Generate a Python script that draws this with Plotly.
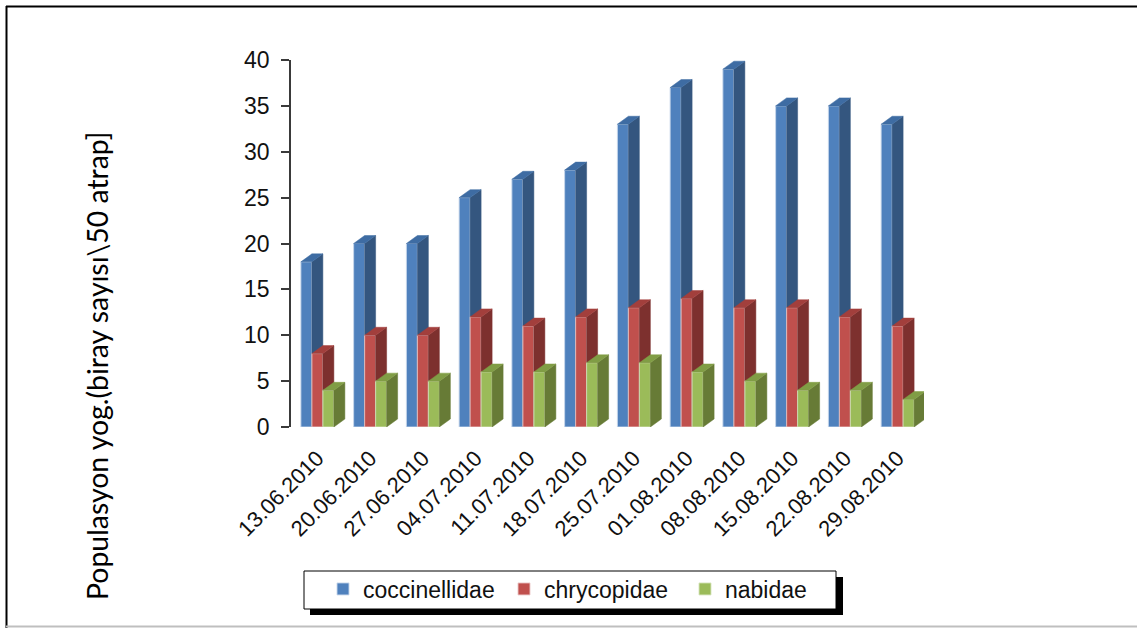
import plotly.graph_objects as go

# Sampling dates and counts per family
dates = ["13.06.2010", "20.06.2010", "27.06.2010", "04.07.2010", "11.07.2010", "18.07.2010",
         "25.07.2010", "01.08.2010", "08.08.2010", "15.08.2010", "22.08.2010", "29.08.2010"]
coccinellidae = [18, 20, 20, 25, 27, 28, 33, 37, 39, 35, 35, 33]
chrycopidae = [8, 10, 10, 12, 11, 12, 13, 14, 13, 13, 12, 11]
nabidae = [4, 5, 5, 6, 6, 7, 7, 6, 5, 4, 4, 3]
y_ticks = [0, 5, 10, 15, 20, 25, 30, 35, 40]

W, H = 1137, 628
L, R, T, B = 291, 213, 60, 201
PW, PH = W - L - R, H - T - B


def px(x):
    """pixel x -> paper x"""
    return (x - L) / PW


def py(y):
    """pixel y (from top) -> paper y"""
    return (H - B - y) / PH


BAR_W = 0.2085      # width of one front face, in category units
DEPTH_X = 0.2085    # horizontal shift of the back faces
DEPTH_Y = 0.87      # vertical shift of the back faces, in value units

series = [
    ("coccinellidae", coccinellidae, "#4F81BD", "#34567F", "#3E6CA3", "rgba(200,215,235,0.9)"),
    ("chrycopidae", chrycopidae, "#C0504D", "#7D302E", "#A23F3C", "rgba(235,200,200,0.9)"),
    ("nabidae", nabidae, "#9BBB59", "#677B36", "#809D45", "rgba(215,230,190,0.9)"),
]

idx = list(range(len(dates)))
fig = go.Figure()

for s, (name, vals, front, side, top, edge) in enumerate(series):
    xa = "x" if s == 0 else f"x{s + 1}"
    offset = -1.5 * BAR_W + s * BAR_W
    fig.add_trace(go.Bar(
        x=idx, y=vals, width=BAR_W, offset=offset, name=name,
        marker=dict(color=front, line=dict(color=edge, width=1)),
        xaxis=xa, yaxis="y", hoverinfo="skip",
    ))
    sx, sy, tx, ty = [], [], [], []
    for i, v in zip(idx, vals):
        xl = i + offset
        xr = xl + BAR_W
        sx += [xr, xr + DEPTH_X, xr + DEPTH_X, xr, xr, None]
        sy += [0, DEPTH_Y, v + DEPTH_Y, v, 0, None]
        tx += [xl, xr, xr + DEPTH_X, xl + DEPTH_X, xl, None]
        ty += [v, v, v + DEPTH_Y, v + DEPTH_Y, v, None]
    fig.add_trace(go.Scatter(x=sx, y=sy, fill="toself", fillcolor=side, mode="lines",
                             line=dict(color=side, width=0.5), showlegend=False,
                             xaxis=xa, yaxis="y", hoverinfo="skip"))
    fig.add_trace(go.Scatter(x=tx, y=ty, fill="toself", fillcolor=top, mode="lines",
                             line=dict(color=top, width=0.5), showlegend=False,
                             xaxis=xa, yaxis="y", hoverinfo="skip"))

xr_ = [-0.5, len(dates) - 0.5]
fig.update_layout(
    width=W, height=H,
    margin=dict(l=L, r=R, t=T, b=B),
    paper_bgcolor="white", plot_bgcolor="white",
    barmode="overlay",
    xaxis=dict(range=xr_, tickmode="array", tickvals=idx, ticktext=dates,
               tickangle=-45, showgrid=False, zeroline=False, showline=False, ticks="",
               tickfont=dict(family="Liberation Sans", size=22, color="#111"),
               ticklabelstandoff=13),
    xaxis2=dict(range=xr_, overlaying="x", visible=False, matches="x"),
    xaxis3=dict(range=xr_, overlaying="x", visible=False, matches="x"),
    yaxis=dict(range=[0, 40], tickmode="array", tickvals=y_ticks, showgrid=False, zeroline=False,
               showline=True, linecolor="#3a3a3a", linewidth=1.5,
               ticks="outside", ticklen=8, tickwidth=1.5, tickcolor="#3a3a3a",
               tickfont=dict(family="Liberation Sans", size=23, color="#111"),
               ticklabelstandoff=7),
    legend=dict(orientation="h", x=px(323), xanchor="left", y=py(589), yanchor="middle",
                bgcolor="rgba(0,0,0,0)", borderwidth=0, entrywidth=136,
                font=dict(family="Liberation Sans", size=23, color="#111")),
    showlegend=True,
)

shapes = [
    # legend frame with drop shadow
    dict(type="rect", xref="paper", yref="paper", x0=px(310), x1=px(843), y0=py(615), y1=py(577),
         fillcolor="black", line=dict(width=0), layer="above"),
    dict(type="rect", xref="paper", yref="paper", x0=px(304), x1=px(836), y0=py(609), y1=py(571),
         fillcolor="white", line=dict(color="black", width=1), layer="above"),
    # page frame
    dict(type="line", xref="paper", yref="paper", x0=px(6), x1=px(W), y0=py(6.5), y1=py(6.5),
         line=dict(color="black", width=2)),
    dict(type="line", xref="paper", yref="paper", x0=px(6.5), x1=px(6.5), y0=py(6), y1=py(H),
         line=dict(color="black", width=2)),
    dict(type="line", xref="paper", yref="paper", x0=px(6), x1=px(W), y0=py(626.5), y1=py(626.5),
         line=dict(color="#bfbfbf", width=2)),
]
fig.update_layout(shapes=shapes)

fig.add_annotation(
    text="Populasyon yog.(biray sayısı\\50 atrap]",
    xref="paper", yref="paper", x=px(97), y=py(366), xanchor="center", yanchor="middle",
    textangle=-90, showarrow=False,
    font=dict(family="Lato", size=28.4, color="black"),
)

fig.write_html("out.html")
